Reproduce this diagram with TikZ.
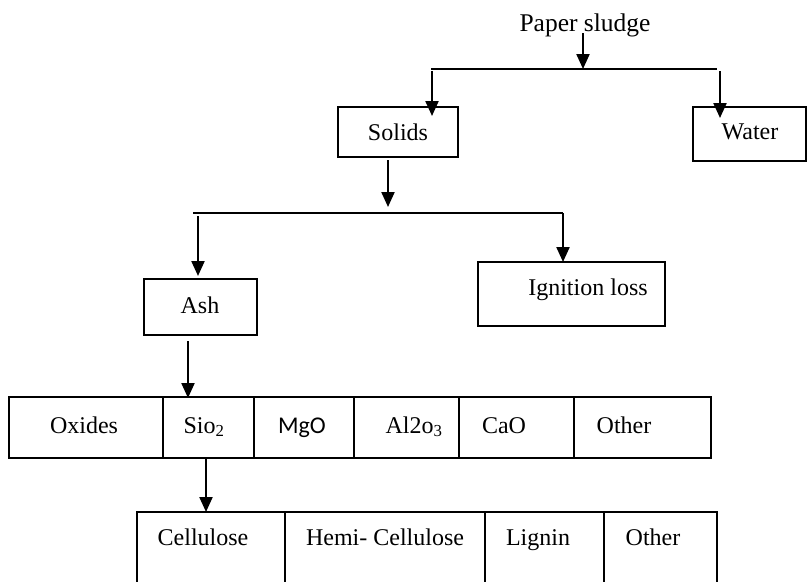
\documentclass[tikz,border=0pt]{standalone}
\usepackage{fontspec}
\setmainfont{Liberation Serif}
\newfontfamily\sansmg{Carlito}
\usetikzlibrary{arrows.meta}
\begin{document}
\begin{tikzpicture}[x=1pt,y=-1pt,
  cell/.style={draw,line width=2.2pt,rectangle,inner sep=0pt},
  lbl/.style={anchor=base,inner sep=0pt,font=\fontsize{24}{28}\selectfont},
  arr/.style={line width=2.2pt,-{Triangle[length=15pt,width=13pt]}},
  hline/.style={line width=1.3pt}]
\useasboundingbox (0,0) rectangle (808,581);
\clip (0,0) rectangle (808,581);
% boxes (drawn from corner coordinates)
\newcommand\mkbox[5]{\node[cell,minimum width={#4-#2},minimum height={#5-#3}] (#1) at ({(#2+#4)/2},{(#3+#5)/2}) {};}
\mkbox{solids}{338}{107}{458}{157}
\mkbox{water}{693}{107}{806}{161}
\mkbox{ash}{144}{279}{257}{335}
\mkbox{ign}{478}{262}{665}{326}
\mkbox{oxides}{9}{397}{163}{458}
\mkbox{sio}{163}{397}{254}{458}
\mkbox{mgo}{254}{397}{354}{458}
\mkbox{al}{354}{397}{459}{458}
\mkbox{cao}{459}{397}{574}{458}
\mkbox{oth1}{574}{397}{711}{458}
\mkbox{cell}{137}{512}{285}{620}
\mkbox{hemi}{285}{512}{485}{620}
\mkbox{lig}{485}{512}{604}{620}
\mkbox{oth2}{604}{512}{717}{620}
% labels
\node[lbl,font=\fontsize{25.5}{30}\selectfont] (ps) at (585,31) {Paper sludge};
\node[lbl] (tsolids) at (398,140) {Solids};
\node[lbl] (twater) at (750,139) {Water};
\node[lbl] (tash) at (200,313) {Ash};
\node[lbl] (tign) at (588,295) {Ignition loss};
\node[lbl] (toxides) at (84,433) {Oxides};
\node[lbl] (tsio) at (204,433) {Sio\textsubscript{2}};
\node[lbl,font=\fontsize{24}{28}\sansmg] (tmgo) at (302,433) {MgO};
\node[lbl] (tal) at (414,433) {Al2o\textsubscript{3}};
\node[lbl] (tcao) at (504,433) {CaO};
\node[lbl] (toth1) at (624,433) {Other};
\node[lbl] (tcell) at (203,545) {Cellulose};
\node[lbl] (themi) at (385,545) {Hemi- Cellulose};
\node[lbl] (tlig) at (538,545) {Lignin};
\node[lbl] (toth2) at (653,545) {Other};
% connector coordinates
\coordinate (a0) at (583,33);
\coordinate (j1) at (583,69);
\coordinate (h1l) at (431,69);
\coordinate (h1r) at (717,69);
\coordinate (a1s) at (432,71);
\coordinate (a1e) at (432,116);
\coordinate (a2s) at (720,71);
\coordinate (a2e) at (720,118);
\coordinate (a3s) at (388,160);
\coordinate (a3e) at (388,207);
\coordinate (h2l) at (193,213);
\coordinate (h2r) at (563,213);
\coordinate (a4s) at (198,216);
\coordinate (a4e) at (198,276);
\coordinate (a5s) at (563,213);
\coordinate (a5e) at (563,262);
\coordinate (a6s) at (188,341);
\coordinate (a6e) at (188,398);
\coordinate (a7s) at (206,458);
\coordinate (a7e) at (206,512);
% connectors
\draw[arr] (a0) -- (j1);
\draw[hline] (h1l) -- (h1r);
\draw[arr] (a1s) -- (a1e);
\draw[arr] (a2s) -- (a2e);
\draw[arr] (a3s) -- (a3e);
\draw[hline] (h2l) -- (h2r);
\draw[arr] (a4s) -- (a4e);
\draw[arr] (a5s) -- (a5e);
\draw[arr] (a6s) -- (a6e);
\draw[arr] (a7s) -- (a7e);
\end{tikzpicture}
\end{document}
